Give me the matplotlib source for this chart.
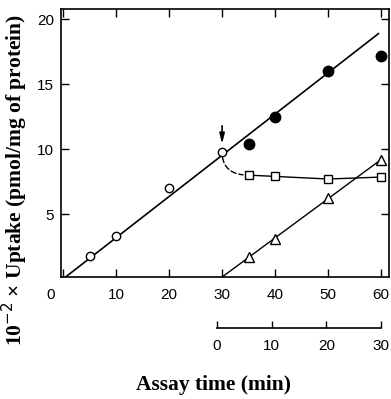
import numpy as np
import matplotlib
matplotlib.use("Agg")
import matplotlib.pyplot as plt
import matplotlib.transforms as mtransforms

# ---- data ----
open_x = [5, 10, 20, 30]
open_y = [1.8, 3.3, 7.0, 9.8]
filled_x = [35, 40, 50, 60]
filled_y = [10.4, 12.5, 16.0, 17.2]
square_x = [35, 40, 50, 60]
square_y = [8.0, 7.9, 7.7, 7.85]
tri_x = [35, 40, 50, 60]
tri_y = [1.7, 3.1, 6.2, 9.2]
main_line_x = [0, 59.5]
main_line_y = [0, 18.9]
arrow_x = 30
xticks_main = [0, 10, 20, 30, 40, 50, 60]
yticks = [5, 10, 15, 20]
xticks_second = [0, 10, 20, 30]

W, H = 391, 399
fig = plt.figure(figsize=(W / 100, H / 100), dpi=100)
ax = fig.add_axes([61 / W, 1 - 277 / H, (389 - 61) / W, (277 - 9) / H])

tick_font = dict(family="Liberation Sans", size=11)
label_font = dict(family="Liberation Serif", size=15.5, weight="bold")

# main line through origin and filled circles
ax.plot(main_line_x, main_line_y, color="black", lw=1.2, zorder=2)
ax.plot(open_x, open_y, "o", mfc="white", mec="black", ms=6, mew=1.0, zorder=3)
ax.plot(filled_x, filled_y, "o", color="black", ms=7.5, zorder=3)

# squares
ax.plot(square_x, square_y, "-s", color="black", mfc="white", mec="black",
        ms=6, mew=1.0, lw=1.0, zorder=3)
# dashed transition from last open circle to first square
ax.annotate("", xy=(square_x[0], square_y[0]), xytext=(open_x[-1], open_y[-1]),
            arrowprops=dict(arrowstyle="-", linestyle=(0, (4, 2)), lw=1.0,
                            color="black",
                            connectionstyle="angle3,angleA=-90,angleB=0",
                            shrinkA=4, shrinkB=4))

# triangles with fitted line
p = np.polyfit(tri_x, tri_y, 1)
x0 = -p[1] / p[0]
ax.plot([x0, tri_x[-1]], [0, np.polyval(p, tri_x[-1])], color="black", lw=1.0, zorder=2)
ax.plot(tri_x, tri_y, "^", mfc="white", mec="black", ms=7, mew=1.0, zorder=3)

# arrow
ax.annotate("", xy=(arrow_x, open_y[-1] + 0.6), xytext=(arrow_x, open_y[-1] + 2.0),
            arrowprops=dict(arrowstyle="-|>,head_length=0.6,head_width=0.15",
                            color="black", lw=1.2, shrinkA=0, shrinkB=0))

ax.set_xlim(-0.4, 61.5)
ax.set_ylim(0.15, 20.8)
ax.set_xticks(xticks_main)
ax.set_xticklabels([str(v) for v in xticks_main], **tick_font)
ax.set_yticks(yticks)
ax.set_yticklabels([str(v) for v in yticks], **tick_font)
ax.tick_params(direction="in", length=6, width=1.0, top=True, right=True,
               pad=8)
ax.tick_params(axis="y", pad=5)
for s in ax.spines.values():
    s.set_linewidth(1.2)

# shift the "0" label left
lbl0 = ax.get_xticklabels()[0]
lbl0.set_transform(lbl0.get_transform() +
                   mtransforms.ScaledTranslation(-0.12, 0, fig.dpi_scale_trans))

ax.set_ylabel("10$^{-2}$ × Uptake (pmol/mg of protein)", **label_font)
ax.yaxis.set_label_coords(-0.095, 0.36)

# secondary time axis
ax2 = fig.add_axes([217 / W, 1 - 328 / H, (381 - 217) / W, 0.001])
ax2.set_xlim(0, 30)
ax2.set_ylim(0, 1)
for k in ["top", "left", "right"]:
    ax2.spines[k].set_visible(False)
ax2.spines["bottom"].set_linewidth(1.2)
ax2.set_yticks([])
ax2.set_xticks(xticks_second)
ax2.set_xticklabels([str(v) for v in xticks_second], **tick_font)
ax2.tick_params(axis="x", direction="in", length=5, width=1.0, pad=8)
ax2.patch.set_visible(False)

fig.text(214 / W, 1 - 385 / H, "Assay time (min)", ha="center", va="center",
         **label_font)

fig.savefig("out.png", dpi=100)
